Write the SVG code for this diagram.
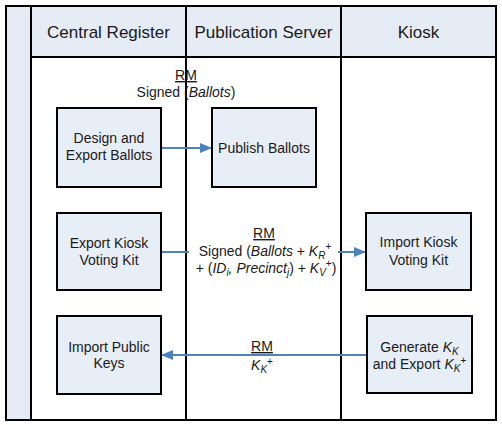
<svg xmlns="http://www.w3.org/2000/svg" width="502" height="425" viewBox="0 0 502 425">
<defs>
<style>
.grid{stroke:#000;stroke-width:2;fill:none}
.hdr{fill:#E6ECF6;stroke:#000;stroke-width:2}
.box{fill:#E8EEF8;stroke:#000;stroke-width:2}
.t{font-family:"Liberation Sans",Arial,sans-serif;font-size:14px;fill:#1a1a1a;text-anchor:middle}
.h{font-family:"Liberation Sans",Arial,sans-serif;font-size:17px;fill:#1a1a1a;text-anchor:middle}
.i{font-style:italic}
.u{text-decoration:underline}
.s{font-size:10px}
.conn{stroke:#4F81BD;stroke-width:2;fill:none}
</style>
<marker id="ah" viewBox="0 0 12 10" refX="12" refY="5" markerWidth="12" markerHeight="10" markerUnits="userSpaceOnUse" orient="auto">
<path d="M0,0 L12,5 L0,10 z" fill="#4F81BD"/>
</marker>
</defs>
<rect x="0" y="0" width="502" height="425" fill="#fff"/>
<g id="lanes">
<rect class="hdr" x="6" y="6" width="25" height="414"/>
<rect class="hdr" x="31" y="6" width="465" height="51"/>
<rect class="grid" x="6" y="6" width="490" height="414"/>
<line class="grid" x1="186" y1="6" x2="186" y2="420"/>
<line class="grid" x1="341" y1="6" x2="341" y2="420"/>
<text class="h" x="108.5" y="38">Central Register</text>
<text class="h" x="263.5" y="38">Publication Server</text>
<text class="h" x="418.5" y="38">Kiosk</text>
</g>
<g id="connectors">
<line class="conn" x1="161" y1="148" x2="212" y2="148" marker-end="url(#ah)"/>
<line class="conn" x1="161" y1="252" x2="189" y2="252"/>
<line class="conn" x1="338" y1="252" x2="366" y2="252" marker-end="url(#ah)"/>
<line class="conn" x1="367" y1="355" x2="161" y2="355" marker-end="url(#ah)"/>
<text class="t" x="186" y="80"><tspan class="u">RM</tspan></text>
<text class="t" x="186" y="97">Signed (<tspan class="i">Ballots</tspan>)</text>
<text class="t" x="264" y="238"><tspan class="u">RM</tspan></text>
<text class="t" x="265" y="256">Signed (<tspan class="i">Ballots</tspan> + <tspan class="i">K</tspan><tspan class="i s" dy="3">R</tspan><tspan class="s" dy="-9">+</tspan></text>
<text class="t" x="266" y="273">+ (<tspan class="i">ID</tspan><tspan class="i s" dy="3">i</tspan><tspan class="i" dy="-3">, Precinct</tspan><tspan class="i s" dy="3">j</tspan><tspan dy="-3">) + </tspan><tspan class="i">K</tspan><tspan class="i s" dy="3">V</tspan><tspan class="s" dy="-9">+</tspan><tspan dy="6">)</tspan></text>
<text class="t" x="262" y="351"><tspan class="u">RM</tspan></text>
<text class="t" x="262" y="370"><tspan class="i">K</tspan><tspan class="i s" dy="3">K</tspan><tspan class="s" dy="-8">+</tspan></text>
</g>
<g id="design-export-ballots">
<rect class="box" x="57" y="108" width="104" height="79"/>
<text class="t" x="109" y="143">Design and</text>
<text class="t" x="109" y="160">Export Ballots</text>
</g>
<g id="publish-ballots">
<rect class="box" x="212" y="108" width="104" height="79"/>
<text class="t" x="264" y="153">Publish Ballots</text>
</g>
<g id="export-kiosk-voting-kit">
<rect class="box" x="57" y="213" width="104" height="77"/>
<text class="t" x="109" y="248">Export Kiosk</text>
<text class="t" x="109" y="265">Voting Kit</text>
</g>
<g id="import-kiosk-voting-kit">
<rect class="box" x="366" y="213" width="105" height="77"/>
<text class="t" x="418.5" y="247">Import Kiosk</text>
<text class="t" x="418.5" y="265">Voting Kit</text>
</g>
<g id="import-public-keys">
<rect class="box" x="57" y="316" width="104" height="78"/>
<text class="t" x="109" y="352">Import Public</text>
<text class="t" x="109" y="368">Keys</text>
</g>
<g id="generate-export-kk">
<rect class="box" x="367" y="316" width="105" height="77"/>
<text class="t" x="419.5" y="352">Generate <tspan class="i">K</tspan><tspan class="i s" dy="3">K</tspan></text>
<text class="t" x="419.5" y="369">and Export <tspan class="i">K</tspan><tspan class="i s" dy="3">K</tspan><tspan class="s" dy="-8">+</tspan></text>
</g>
</svg>
